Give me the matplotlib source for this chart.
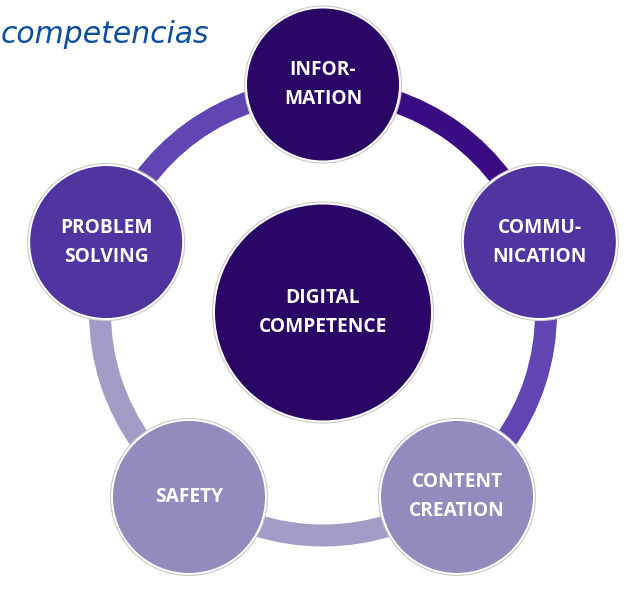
import matplotlib.pyplot as plt
from matplotlib.patches import Circle, Wedge
import numpy as np

# diagram content
center_label = 'DIGITAL\nCOMPETENCE'
labels = ['INFOR-\nMATION', 'COMMU-\nNICATION', 'CONTENT\nCREATION', 'SAFETY', 'PROBLEM\nSOLVING']
angles = [90, 18, -54, -126, -198]   # node position on the ring, degrees
node_colors = ['#2a0766', '#5034a0', '#938bbd', '#938bbd', '#5034a0']
# arc from node i to node i+1
arc_colors = ['#3b0b83', '#6145b3', '#a39cc7', '#a39cc7', '#6145b3']

W, H = 639, 593
cx, cy = 323, H - 312.5
ring_r = 228
node_r = 76
center_r = 108

fig = plt.figure(figsize=(W / 100, H / 100), dpi=100)
ax = fig.add_axes([0, 0, 1, 1])
ax.set_xlim(0, W)
ax.set_ylim(0, H)
ax.set_aspect('equal')
ax.axis('off')

# ring segments
for i, col in enumerate(arc_colors):
    a1 = angles[i + 1] if i + 1 < len(angles) else angles[0] - 360
    a2 = angles[i]
    ax.add_patch(Wedge((cx, cy), 234, a1, a2, width=22, color=col, lw=0, zorder=1))

def bubble(x, y, r, color, text):
    ax.add_patch(Circle((x, y), r + 2.5, facecolor='white', edgecolor='#c9c9c9', lw=0.8, zorder=2))
    ax.add_patch(Circle((x, y), r, facecolor=color, edgecolor='none', zorder=3))
    ax.text(x, y, text, color='white', ha='center', va='center', multialignment='center',
            fontsize=13.8, fontweight='bold', family='Open Sans', linespacing=1.6, zorder=4)

bubble(cx, cy, center_r, '#2a0766', center_label)
for lab, ang, col in zip(labels, angles, node_colors):
    t = np.deg2rad(ang)
    bubble(cx + ring_r * np.cos(t), cy + ring_r * np.sin(t), node_r, col, lab)

ax.text(0.5, H - 43, 'competencias', color='#0b4f9c', fontsize=21.5, style='italic',
        family='DejaVu Sans', ha='left', va='baseline')

fig.savefig('out.png', dpi=100)
